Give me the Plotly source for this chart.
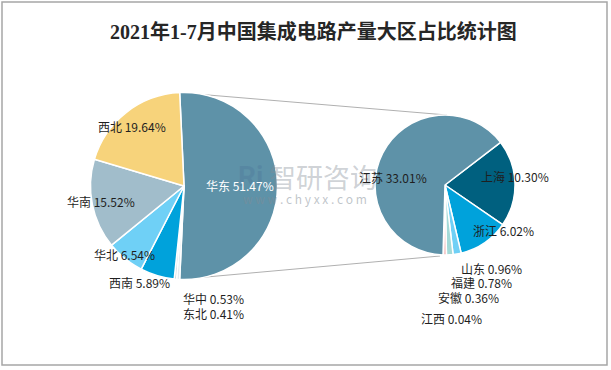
import plotly.graph_objects as go
import math

# ---------------- data ----------------
title_text = "2021年1-7月中国集成电路产量大区占比统计图"
left_labels = ["华东", "华中", "东北", "西南", "华北", "华南", "西北"]
left_values = [51.47, 0.53, 0.41, 5.89, 6.54, 15.52, 19.64]
right_labels = ["上海", "浙江", "山东", "福建", "安徽", "江西", "江苏"]
right_values = [10.30, 6.02, 0.96, 0.78, 0.36, 0.04, 33.01]

# ---------------- style ----------------
W, H = 611, 370
left_colors = ["#5e92a8", "#e3ebef", "#cbd6dc", "#00a2db", "#6fd0f6", "#a1bdcb", "#f7d37b"]
right_colors = ["#00607f", "#00a2db", "#6fd0f6", "#a3dad8", "#f2b8b8", "#d9d9d9", "#5e92a8"]
L_CX, L_CY, L_R = 184, 186, 93.5
R_CX, R_CY, R_R = 445, 185, 70
label_font = "Noto Sans CJK SC, Noto Sans, sans-serif"
text_col = "#1f1f1f"

# label anchor positions (pixels, text centre)
left_label_pos = {"华东": (240, 185), "西北": (132, 126), "华南": (101, 201), "华北": (124, 254),
                  "西南": (139, 282), "华中": (213, 298), "东北": (213, 313)}
right_label_pos = {"江苏": (393, 177), "上海": (515, 176), "浙江": (503, 230), "山东": (491, 268),
                   "福建": (481, 282), "安徽": (468, 297), "江西": (451, 318)}


def px(x):
    return x / W


def py(y):
    return 1 - y / H


left_rot = 90 - left_values[0] / sum(left_values) * 180
right_rot = 52.5

fig = go.Figure()
fig.add_trace(go.Pie(
    labels=left_labels, values=left_values, sort=False, direction="clockwise",
    rotation=left_rot, textinfo="none", showlegend=False,
    marker=dict(colors=left_colors, line=dict(color="white", width=1.5)),
    domain=dict(x=[px(L_CX - L_R), px(L_CX + L_R)], y=[py(L_CY + L_R), py(L_CY - L_R)]),
))
fig.add_trace(go.Pie(
    labels=right_labels, values=right_values, sort=False, direction="clockwise",
    rotation=right_rot, textinfo="none", showlegend=False,
    marker=dict(colors=right_colors, line=dict(color="white", width=1.5)),
    domain=dict(x=[px(R_CX - R_R), px(R_CX + R_R)], y=[py(R_CY + R_R), py(R_CY - R_R)]),
))

# connector lines from the split slice edges to the secondary pie
a0 = math.radians(left_rot)
a1 = math.radians(left_rot + left_values[0] / sum(left_values) * 360)
top_pt = (L_CX + L_R * math.sin(a0), L_CY - L_R * math.cos(a0))
bot_pt = (L_CX + L_R * math.sin(a1), L_CY - L_R * math.cos(a1))
shapes = [
    dict(type="line", xref="paper", yref="paper", layer="below",
         x0=px(top_pt[0]), y0=py(top_pt[1]), x1=px(R_CX + 2), y1=py(R_CY - R_R),
         line=dict(color="#b0b0b0", width=1)),
    dict(type="line", xref="paper", yref="paper", layer="below",
         x0=px(bot_pt[0]), y0=py(bot_pt[1]), x1=px(R_CX - 5), y1=py(R_CY + R_R + 1),
         line=dict(color="#b0b0b0", width=1)),
    dict(type="rect", xref="paper", yref="paper",
         x0=px(2), y0=py(365), x1=px(607), y1=py(2),
         line=dict(color="#a6a6a6", width=1.5)),
]


def ann(text, x, y, size, color, family=label_font):
    return dict(text=text, x=px(x), y=py(y), xref="paper", yref="paper",
                xanchor="center", yanchor="middle", showarrow=False,
                font=dict(size=size, color=color, family=family))


annotations = []
# watermark
annotations.append(ann("<b>Ri</b>", 250, 176, 28, "rgba(70,110,150,0.28)", "Roboto"))
annotations.append(ann("智研咨询", 323, 176, 27, "rgba(130,140,150,0.40)"))
annotations.append(ann("w w w . c h y x x . c o m", 305, 198, 12, "rgba(130,140,150,0.50)"))

for lab, val in zip(left_labels, left_values):
    x, y = left_label_pos[lab]
    col = "white" if lab == "华东" else text_col
    annotations.append(ann(f"{lab} {val:.2f}%", x, y, 12, col))
for lab, val in zip(right_labels, right_values):
    x, y = right_label_pos[lab]
    annotations.append(ann(f"{lab} {val:.2f}%", x, y, 12, text_col))

annotations.append(ann(f"<b>{title_text}</b>", 313, 31, 20, "#262626",
                       "Liberation Serif, Noto Sans CJK SC, serif"))

fig.update_layout(
    width=W, height=H, margin=dict(l=0, r=0, t=0, b=0),
    paper_bgcolor="white", plot_bgcolor="white",
    shapes=shapes, annotations=annotations,
)
fig.write_html("out.html", config={"displayModeBar": False},
               post_script="document.body.style.margin='0';document.body.style.overflow='hidden';")
